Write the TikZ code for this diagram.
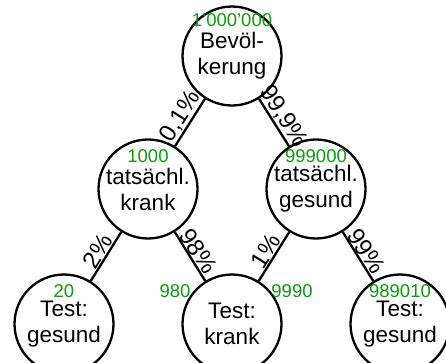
\documentclass[tikz,border=0pt]{standalone}
\usepackage{fontspec}
\setmainfont{Liberation Sans}
\usetikzlibrary{calc}
\definecolor{countgreen}{RGB}{20,150,20}
\begin{document}
\begin{tikzpicture}[x=1pt,y=-1pt,
  state/.style={circle, draw, line width=2.3pt, minimum size=99pt, inner sep=0pt,
    align=center, font=\fontsize{22.5}{26}\selectfont},
  count/.style={text=countgreen, font=\fontsize{18.5}{20}\selectfont, anchor=base, inner sep=0pt},
  branch/.style={line width=2.3pt},
  share/.style={sloped, above, midway, inner sep=0.5pt, font=\fontsize{24}{26}\selectfont}]
\useasboundingbox (0,0) rectangle (446,362);

% population tree: root, true condition, test result
\node[state] (pop) at (232,56) {Bevöl-\\kerung};
\node[state] (sick) at (148,189) {tatsächl.\\krank};
\node[state] (well) at (316,189) {tatsächl.\\gesund};
\node[state] (fneg) at (64,324) {Test:\\gesund};
\node[state] (pos) at (232,324) {Test:\\krank};
\node[state] (tneg) at (400,324) {Test:\\gesund};

% head counts
\node[count] (pop-n) at ($(pop)+(0,-30)$) {1'000'000};
\node[count] (sick-n) at ($(sick)+(0,-27)$) {1000};
\node[count] (well-n) at ($(well)+(0,-27)$) {999000};
\node[count] (fneg-n) at ($(fneg)+(0,-27)$) {20};
\node[count] (pos-n1) at ($(pos)+(-57,-27)$) {980};
\node[count] (pos-n2) at ($(pos)+(60,-27)$) {9990};
\node[count] (tneg-n) at ($(tneg)+(0,-27)$) {989010};

% branches with their rates
\draw[branch] (pop) -- node[share] {0,1\%} (sick);
\draw[branch] (pop) -- node[share] {99,9\%} (well);
\draw[branch] (sick) -- node[share] {2\%} (fneg);
\draw[branch] (sick) -- node[share] {98\%} (pos);
\draw[branch] (well) -- node[share] {1\%} (pos);
\draw[branch] (well) -- node[share] {99\%} (tneg);
\end{tikzpicture}
\end{document}
